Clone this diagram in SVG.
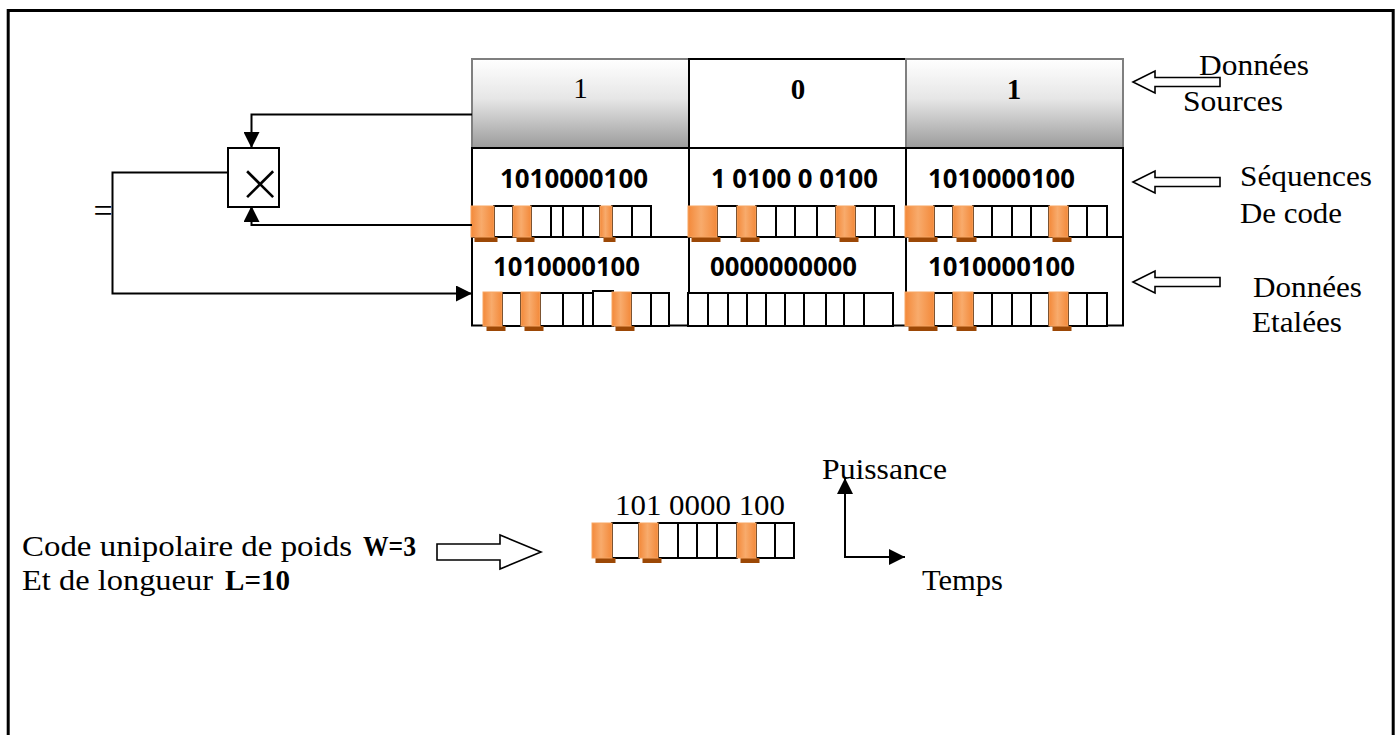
<svg xmlns="http://www.w3.org/2000/svg" width="1397" height="735" viewBox="0 0 1397 735">
  <style>
    .serif { font-family: "Liberation Serif", "Times New Roman", serif; fill: #000; }
    .sans { font-family: "Open Sans", "Liberation Sans", sans-serif; font-weight: bold; fill: #000; }
    .b { font-weight: bold; }
    .line { fill: none; stroke: #000; stroke-width: 2; }
    .cell { fill: #fff; stroke: #000; stroke-width: 2; }
    .grey { fill: url(#shade); stroke: #7f7f7f; stroke-width: 2; }
    .box { fill: #fff; stroke: #000; stroke-width: 2; }
    .chip { fill: url(#orange); stroke: #f7a562; stroke-width: 1; }
    .foot { fill: #9c4806; }
    .hollow { fill: #fff; stroke: #000; stroke-width: 1.6; stroke-linejoin: miter; }
  </style>
  <defs>
    <linearGradient id="shade" x1="0" y1="0" x2="0" y2="1">
      <stop offset="0" stop-color="#ffffff"/>
      <stop offset="0.45" stop-color="#e6e6e6"/>
      <stop offset="1" stop-color="#9b9b9b"/>
    </linearGradient>
    <linearGradient id="orange" x1="0" y1="0" x2="1" y2="0">
      <stop offset="0" stop-color="#f3893a"/>
      <stop offset="0.45" stop-color="#f8ab6c"/>
      <stop offset="1" stop-color="#f3893a"/>
    </linearGradient>
    <marker id="head" markerUnits="userSpaceOnUse" markerWidth="16" markerHeight="16" viewBox="0 0 16 16" refX="16" refY="8" orient="auto">
      <path d="M0,0 L16,8 L0,16 z" fill="#000"/>
    </marker>
  </defs>

  <rect width="1397" height="735" fill="#fff"/>
  <!-- page frame, open at the bottom -->
  <rect x="8.2" y="10.5" width="1385" height="760" fill="none" stroke="#000" stroke-width="3"/>

  <!-- source bits -->
  <g id="source-row">
    <rect class="grey" x="472" y="59" width="217" height="89"/>
    <rect class="cell" x="689" y="59" width="217" height="89"/>
    <rect class="grey" x="906" y="59" width="217" height="89"/>
    <text class="serif" x="580.5" y="98" font-size="29" text-anchor="middle">1</text>
    <text class="serif b" x="798" y="99" font-size="29" text-anchor="middle">0</text>
    <text class="serif b" x="1014" y="99" font-size="29" text-anchor="middle">1</text>
  </g>

  <!-- grid for code and spread rows -->
  <g id="grid">
    <rect class="cell" x="472" y="148" width="651" height="177.5" fill="none"/>
    <path class="line" d="M689,148 V325.5 M906,148 V325.5 M472,237 H1123"/>
  </g>

  <!-- code sequences -->
  <g id="code-row">
    <text class="sans" x="500" y="188" font-size="26" textLength="148" lengthAdjust="spacingAndGlyphs">1010000100</text>
    <text class="sans" x="711" y="188" font-size="26" textLength="167" lengthAdjust="spacingAndGlyphs">1 0100 0 0100</text>
    <text class="sans" x="928" y="188" font-size="26" textLength="147" lengthAdjust="spacingAndGlyphs">1010000100</text>
    <g>
      <rect class="box" x="494" y="206" width="19" height="31"/>
      <rect class="box" x="531" y="206" width="20" height="31"/>
      <rect class="box" x="551" y="206" width="12" height="31"/>
      <rect class="box" x="563" y="206" width="20" height="31"/>
      <rect class="box" x="583" y="206" width="17" height="31"/>
      <rect class="box" x="612" y="206" width="20" height="31"/>
      <rect class="box" x="632" y="206" width="19" height="31"/>
      <rect class="box" x="717" y="206" width="20" height="31"/>
      <rect class="box" x="756" y="206" width="20" height="31"/>
      <rect class="box" x="776" y="206" width="19" height="31"/>
      <rect class="box" x="795" y="206" width="22" height="31"/>
      <rect class="box" x="817" y="206" width="19" height="31"/>
      <rect class="box" x="855" y="206" width="20" height="31"/>
      <rect class="box" x="875" y="206" width="19" height="31"/>
      <rect class="box" x="934" y="206" width="19" height="31"/>
      <rect class="box" x="973" y="206" width="19" height="31"/>
      <rect class="box" x="992" y="206" width="20" height="31"/>
      <rect class="box" x="1012" y="206" width="19" height="31"/>
      <rect class="box" x="1031" y="206" width="18" height="31"/>
      <rect class="box" x="1068" y="206" width="19" height="31"/>
      <rect class="box" x="1087" y="206" width="20" height="31"/>
    </g>
    <g>
      <rect class="foot" x="474.5" y="237" width="23" height="5"/>
      <rect class="foot" x="516.5" y="237" width="18" height="5"/>
      <rect class="foot" x="603.5" y="237" width="12" height="5"/>
      <rect class="foot" x="691.5" y="237" width="29" height="5"/>
      <rect class="foot" x="740.5" y="237" width="19" height="5"/>
      <rect class="foot" x="839.5" y="237" width="19" height="5"/>
      <rect class="foot" x="908.5" y="237" width="29" height="5"/>
      <rect class="foot" x="956.5" y="237" width="20" height="5"/>
      <rect class="foot" x="1052.5" y="237" width="19" height="5"/>
      <rect class="chip" x="471" y="206" width="23" height="31"/>
      <rect class="chip" x="513" y="206" width="18" height="31"/>
      <rect class="chip" x="600" y="206" width="12" height="31"/>
      <rect class="chip" x="688" y="206" width="29" height="31"/>
      <rect class="chip" x="737" y="206" width="19" height="31"/>
      <rect class="chip" x="836" y="206" width="19" height="31"/>
      <rect class="chip" x="905" y="206" width="29" height="31"/>
      <rect class="chip" x="953" y="206" width="20" height="31"/>
      <rect class="chip" x="1049" y="206" width="19" height="31"/>
    </g>
  </g>

  <!-- spread data -->
  <g id="spread-row">
    <text class="sans" x="493" y="276" font-size="26" textLength="147" lengthAdjust="spacingAndGlyphs">1010000100</text>
    <text class="sans" x="710" y="276" font-size="26" textLength="147" lengthAdjust="spacingAndGlyphs">0000000000</text>
    <text class="sans" x="928" y="276" font-size="26" textLength="147" lengthAdjust="spacingAndGlyphs">1010000100</text>
    <g>
      <rect class="box" x="502" y="293" width="19" height="33"/>
      <rect class="box" x="540" y="293" width="23" height="33"/>
      <rect class="box" x="563" y="293" width="20" height="33"/>
      <rect class="box" x="583" y="293" width="10" height="33"/>
      <rect class="box" x="593" y="291" width="20" height="35"/>
      <rect class="box" x="631" y="293" width="20" height="33"/>
      <rect class="box" x="651" y="293" width="18" height="33"/>
      <rect class="box" x="688" y="293" width="20" height="33"/>
      <rect class="box" x="708" y="293" width="20" height="33"/>
      <rect class="box" x="728" y="293" width="19" height="33"/>
      <rect class="box" x="747" y="293" width="19" height="33"/>
      <rect class="box" x="766" y="293" width="19" height="33"/>
      <rect class="box" x="785" y="293" width="19" height="33"/>
      <rect class="box" x="804" y="293" width="22" height="33"/>
      <rect class="box" x="826" y="293" width="18" height="33"/>
      <rect class="box" x="844" y="293" width="20" height="33"/>
      <rect class="box" x="864" y="293" width="29" height="33"/>
      <rect class="box" x="934" y="293" width="19" height="33"/>
      <rect class="box" x="973" y="293" width="19" height="33"/>
      <rect class="box" x="992" y="293" width="20" height="33"/>
      <rect class="box" x="1012" y="293" width="19" height="33"/>
      <rect class="box" x="1031" y="293" width="18" height="33"/>
      <rect class="box" x="1068" y="293" width="19" height="33"/>
      <rect class="box" x="1087" y="293" width="20" height="33"/>
    </g>
    <g>
      <rect class="foot" x="486.5" y="326" width="19" height="5"/>
      <rect class="foot" x="524.5" y="326" width="19" height="5"/>
      <rect class="foot" x="615.5" y="326" width="19" height="5"/>
      <rect class="foot" x="908.5" y="326" width="29" height="5"/>
      <rect class="foot" x="956.5" y="326" width="20" height="5"/>
      <rect class="foot" x="1052.5" y="326" width="19" height="5"/>
      <rect class="chip" x="483" y="292" width="19" height="34"/>
      <rect class="chip" x="521" y="292" width="19" height="34"/>
      <rect class="chip" x="612" y="292" width="19" height="34"/>
      <rect class="chip" x="905" y="292" width="29" height="34"/>
      <rect class="chip" x="953" y="292" width="20" height="34"/>
      <rect class="chip" x="1049" y="292" width="19" height="34"/>
    </g>
  </g>

  <!-- multiplier -->
  <g id="multiplier">
    <rect class="box" x="228" y="148" width="51" height="59"/>
    <text x="260" y="201" font-family="DejaVu Sans, sans-serif" font-weight="200" font-size="54" text-anchor="middle">×</text>
  </g>
  <g id="equals">
    <text class="serif" x="103" y="222" font-size="34" text-anchor="middle">=</text>
  </g>

  <!-- connectors -->
  <g id="connectors">
    <path class="line" d="M472,114.5 H251.5 V148" marker-end="url(#head)"/>
    <path class="line" d="M472,225 H251.5 V206" marker-end="url(#head)"/>
    <path class="line" d="M228,172.5 H112.5 V293.5 H472" marker-end="url(#head)"/>
  </g>

  <!-- row labels -->
  <g id="label-source">
    <path class="hollow" d="M1133,82 L1155,71 L1155,77.5 L1220,77.5 L1220,86.5 L1155,86.5 L1155,93 Z"/>
    <text class="serif" x="1199" y="75" font-size="29" textLength="110" lengthAdjust="spacingAndGlyphs">Données</text>
    <text class="serif" x="1183" y="111" font-size="29" textLength="100" lengthAdjust="spacingAndGlyphs">Sources</text>
  </g>
  <g id="label-code">
    <path class="hollow" d="M1133,182 L1155,171 L1155,177.5 L1220,177.5 L1220,186.5 L1155,186.5 L1155,193 Z"/>
    <text class="serif" x="1240" y="186" font-size="29" textLength="132" lengthAdjust="spacingAndGlyphs">Séquences</text>
    <text class="serif" x="1240" y="223" font-size="29" textLength="102" lengthAdjust="spacingAndGlyphs">De code</text>
  </g>
  <g id="label-spread">
    <path class="hollow" d="M1133,282 L1155,271 L1155,277.5 L1220,277.5 L1220,286.5 L1155,286.5 L1155,293 Z"/>
    <text class="serif" x="1253" y="297" font-size="29" textLength="109" lengthAdjust="spacingAndGlyphs">Données</text>
    <text class="serif" x="1252" y="332" font-size="29" textLength="90" lengthAdjust="spacingAndGlyphs">Etalées</text>
  </g>

  <!-- code description -->
  <g id="code-legend">
    <text class="serif" x="22" y="556" font-size="29" textLength="330" lengthAdjust="spacingAndGlyphs">Code unipolaire de poids</text>
    <text class="serif b" x="363" y="556" font-size="29" textLength="53" lengthAdjust="spacingAndGlyphs">W=3</text>
    <text class="serif" x="22" y="590" font-size="29" textLength="191" lengthAdjust="spacingAndGlyphs">Et de longueur</text>
    <text class="serif b" x="225" y="590" font-size="29" textLength="65" lengthAdjust="spacingAndGlyphs">L=10</text>
    <path class="hollow" d="M437,544 L500,544 L500,535 L541,552 L500,569 L500,560 L437,560 Z"/>
  </g>

  <!-- example code word -->
  <g id="code-word">
    <text class="serif" x="615" y="515" font-size="29" textLength="170" lengthAdjust="spacingAndGlyphs">101 0000 100</text>
    <g>
      <rect class="box" x="612" y="523" width="27" height="35"/>
      <rect class="box" x="658" y="523" width="20" height="35"/>
      <rect class="box" x="678" y="523" width="19" height="35"/>
      <rect class="box" x="697" y="523" width="20" height="35"/>
      <rect class="box" x="717" y="523" width="20" height="35"/>
      <rect class="box" x="756" y="523" width="19" height="35"/>
      <rect class="box" x="775" y="523" width="19" height="35"/>
    </g>
    <g>
      <rect class="foot" x="595.5" y="558" width="20" height="5"/>
      <rect class="foot" x="642.5" y="558" width="19" height="5"/>
      <rect class="foot" x="740.5" y="558" width="19" height="5"/>
      <rect class="chip" x="592" y="523" width="20" height="35"/>
      <rect class="chip" x="639" y="523" width="19" height="35"/>
      <rect class="chip" x="737" y="523" width="19" height="35"/>
    </g>
  </g>

  <!-- power / time axes -->
  <g id="axes">
    <path class="line" d="M845,557 V478" marker-end="url(#head)"/>
    <path class="line" d="M844,557 H905" marker-end="url(#head)"/>
    <text class="serif" x="822" y="479" font-size="29" textLength="125" lengthAdjust="spacingAndGlyphs">Puissance</text>
    <text class="serif" x="922" y="590" font-size="29" textLength="81" lengthAdjust="spacingAndGlyphs">Temps</text>
  </g>
</svg>
